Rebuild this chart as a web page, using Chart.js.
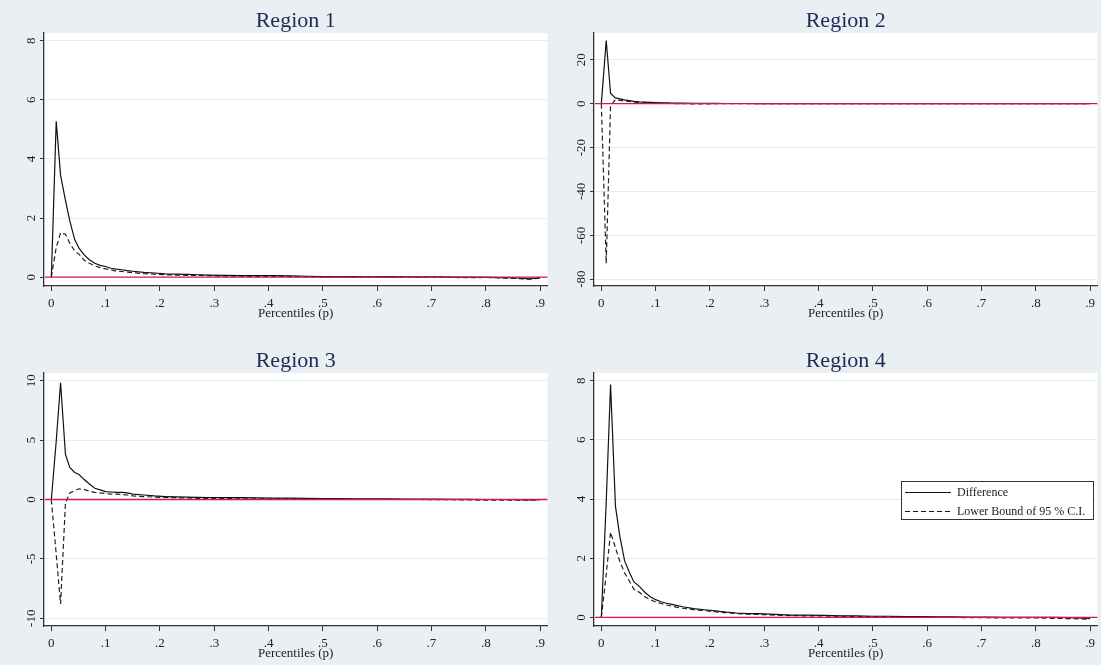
<!DOCTYPE html>
<html>
<head>
<meta charset="utf-8">
<script src="https://cdn.jsdelivr.net/npm/chart.js@4.4.0/dist/chart.umd.min.js"></script>
<style>
  body { margin: 0; background: #e9eff2; width: 1101px; height: 665px; position: relative; overflow: hidden; }
  .panel { position: absolute; width: 550px; height: 325px; }
</style>
</head>
<body>
<div class="panel" style="left:0;top:0"><canvas id="g1"></canvas></div>
<div class="panel" style="left:550px;top:0"><canvas id="g2"></canvas></div>
<div class="panel" style="left:0;top:340px"><canvas id="g3"></canvas></div>
<div class="panel" style="left:550px;top:340px"><canvas id="g4"></canvas></div>
<script>
// percentiles p where the difference was estimated
const pct = [0, .009, .017, .026, .034, .043, .051, .06, .07, .08, .09, .1, .11, .12, .13, .14, .15, .17, .19, .21, .23, .25, .27, .29, .32, .35, .38, .41, .44, .47, .5, .53, .56, .59, .62, .65, .68, .71, .74, .77, .8, .83, .86, .88, .9];

const xTicks = [0, .1, .2, .3, .4, .5, .6, .7, .8, .9];
const xTickLabels = ['0', '.1', '.2', '.3', '.4', '.5', '.6', '.7', '.8', '.9'];

const regionNames = ['Region 1', 'Region 2', 'Region 3', 'Region 4'];
const seriesNames = ['Difference', 'Lower Bound of 95 % C.I.'];

const diff1 = [0, 5.27, 3.45, 2.6, 1.9, 1.27, 0.98, 0.76, 0.59, 0.47, 0.4, 0.36, 0.3, 0.27, 0.25, 0.22, 0.2, 0.16, 0.14, 0.11, 0.1, 0.09, 0.08, 0.07, 0.06, 0.05, 0.05, 0.05, 0.04, 0.03, 0.02, 0.02, 0.02, 0.01, 0.02, 0.01, 0.01, 0.01, 0, 0, -0.01, -0.02, -0.03, -0.06, -0.02];
const lower1 = [0, 1.0, 1.5, 1.45, 1.15, 0.88, 0.78, 0.58, 0.47, 0.38, 0.32, 0.28, 0.25, 0.2, 0.19, 0.17, 0.15, 0.12, 0.1, 0.08, 0.07, 0.06, 0.06, 0.05, 0.03, 0.03, 0.02, 0.03, 0.02, 0.01, 0, 0.01, 0, 0.01, 0, 0, -0.01, 0, -0.01, -0.02, -0.01, -0.03, -0.05, -0.07, -0.03];

const diff2 = [0, 28.8, 4.6, 2.6, 2.2, 1.7, 1.4, 1.0, 0.8, 0.7, 0.6, 0.5, 0.4, 0.35, 0.3, 0.25, 0.2, 0.15, 0.12, 0.1, 0.08, 0.07, 0.06, 0.05, 0.04, 0.03, 0.03, 0.02, 0.02, 0.02, 0.01, 0.01, 0.01, 0, 0, 0, 0, 0, 0, 0, 0, 0, 0, 0, 0];
const lower2 = [0, -72.8, -0.9, 1.8, 1.5, 1.2, 1.0, 0.7, 0.5, 0.4, 0.3, 0.25, 0.2, 0.15, 0.1, 0.05, 0, -0.1, -0.1, -0.05, -0.05, 0, -0.05, -0.05, -0.05, -0.05, -0.05, -0.05, -0.05, -0.05, -0.05, -0.05, -0.05, -0.05, -0.05, -0.05, -0.05, -0.05, -0.05, -0.05, -0.05, -0.05, -0.05, -0.05, -0.05];

const diff3 = [0, 4.9, 9.83, 3.8, 2.7, 2.27, 2.1, 1.7, 1.3, 0.95, 0.81, 0.67, 0.63, 0.6, 0.6, 0.55, 0.45, 0.38, 0.3, 0.25, 0.22, 0.2, 0.18, 0.17, 0.16, 0.15, 0.14, 0.12, 0.11, 0.1, 0.08, 0.07, 0.06, 0.06, 0.05, 0.04, 0.04, 0.03, 0.02, 0.01, 0, 0, -0.02, -0.03, -0.02];
const lower3 = [0, -4.6, -8.8, -0.3, 0.55, 0.75, 0.9, 0.85, 0.7, 0.6, 0.55, 0.5, 0.45, 0.45, 0.42, 0.38, 0.3, 0.25, 0.2, 0.17, 0.15, 0.13, 0.1, 0.08, 0.07, 0.06, 0.06, 0.05, 0.05, 0.04, 0.03, 0.02, 0.02, 0.01, 0.01, 0, 0, -0.01, -0.02, -0.04, -0.06, -0.05, -0.06, -0.05, -0.04];

const diff4 = [0, 3.9, 7.87, 3.76, 2.75, 1.9, 1.55, 1.2, 1.05, 0.85, 0.7, 0.6, 0.53, 0.48, 0.44, 0.4, 0.36, 0.3, 0.26, 0.22, 0.18, 0.15, 0.13, 0.13, 0.1, 0.08, 0.08, 0.07, 0.05, 0.05, 0.04, 0.04, 0.03, 0.03, 0.02, 0.02, 0.01, 0.01, 0, 0, 0, 0, -0.01, -0.02, -0.03];
const lower4 = [0, 1.45, 2.88, 2.35, 1.9, 1.5, 1.25, 0.95, 0.85, 0.7, 0.6, 0.52, 0.47, 0.42, 0.38, 0.34, 0.31, 0.26, 0.23, 0.19, 0.16, 0.13, 0.11, 0.1, 0.08, 0.06, 0.05, 0.05, 0.04, 0.03, 0.02, 0.02, 0.01, 0.01, 0, 0, -0.01, -0.01, -0.02, -0.02, -0.02, -0.03, -0.04, -0.05, -0.06];

const yTicks1 = [0, 2, 4, 6, 8];
const yTicks2 = [-80, -60, -40, -20, 0, 20];
const yTicks3 = [-10, -5, 0, 5, 10];
const yTicks4 = [0, 2, 4, 6, 8];

const serif = "'Liberation Serif', 'DejaVu Serif', serif";

// white plot region, title over it, rotated y labels, red zero line, legend
const stataBits = {
    id: 'stataBits',
    beforeDraw(chart) {
        const { ctx, chartArea } = chart;
        ctx.save();
        ctx.fillStyle = '#fff';
        ctx.fillRect(chartArea.left, chartArea.top, chartArea.right - chartArea.left, chartArea.bottom - chartArea.top);
        ctx.restore();
    },
    afterDatasetsDraw(chart) {
        const { ctx, chartArea } = chart;
        const y0 = chart.scales.y.getPixelForValue(0);
        ctx.save();
        ctx.setLineDash([]);
        ctx.strokeStyle = '#d41a45';
        ctx.lineWidth = 1.4;
        ctx.beginPath();
        ctx.moveTo(chartArea.left + 1, y0);
        ctx.lineTo(chartArea.right, y0);
        ctx.stroke();
        ctx.restore();
    },
    afterDraw(chart, args, opts) {
        const { ctx, chartArea } = chart;
        ctx.save();
        ctx.fillStyle = '#1c2b55';
        ctx.font = '22px ' + serif;
        ctx.textAlign = 'center';
        ctx.textBaseline = 'alphabetic';
        ctx.fillText(opts.title, (chartArea.left + chartArea.right) / 2, 27);

        ctx.fillStyle = '#222';
        ctx.font = '13px ' + serif;
        opts.yTicks.forEach(v => {
            const y = chart.scales.y.getPixelForValue(v);
            ctx.save();
            ctx.translate(35, y);
            ctx.rotate(-Math.PI / 2);
            ctx.fillText(String(v), 0, 0);
            ctx.restore();
        });

        if (opts.legend) {
            const L = 351, T = 141, R = 543, B = 179;
            ctx.fillStyle = '#fff';
            ctx.fillRect(L, T, R - L, B - T);
            ctx.strokeStyle = '#333';
            ctx.lineWidth = 1;
            ctx.strokeRect(L + 0.5, T + 0.5, R - L, B - T);
            const rows = [152.5, 171.5];
            chart.data.datasets.forEach((ds, i) => {
                ctx.strokeStyle = '#111';
                ctx.setLineDash(ds.borderDash || []);
                ctx.beginPath();
                ctx.moveTo(355, rows[i]);
                ctx.lineTo(401, rows[i]);
                ctx.stroke();
                ctx.setLineDash([]);
                ctx.fillStyle = '#222';
                ctx.font = '12px ' + serif;
                ctx.textAlign = 'left';
                ctx.textBaseline = 'middle';
                ctx.fillText(ds.label, 407, rows[i]);
            });
        }
        ctx.restore();
    }
};

function makeChart(id, title, diff, lower, yTicks, yMin, yMax, legend) {
    const ctx = document.getElementById(id).getContext('2d');
    return new Chart(ctx, {
        type: 'line',
        data: {
            datasets: [{
                label: seriesNames[0],
                data: pct.map((p, i) => ({ x: p, y: diff[i] })),
                borderColor: '#111',
                borderWidth: 1.2,
                pointRadius: 0,
                tension: 0
            }, {
                label: seriesNames[1],
                data: pct.map((p, i) => ({ x: p, y: lower[i] })),
                borderColor: '#222',
                borderWidth: 1.2,
                borderDash: [5, 3],
                pointRadius: 0,
                tension: 0
            }]
        },
        options: {
            responsive: true,
            maintainAspectRatio: false,
            animation: false,
            layout: { padding: { top: 33, right: 2, left: 0, bottom: 0 } },
            scales: {
                x: {
                    type: 'linear',
                    min: -0.0135,
                    max: 0.9135,
                    afterBuildTicks: scale => { scale.ticks = xTicks.map(v => ({ value: v })); },
                    afterFit: scale => { scale.height = 39; },
                    ticks: {
                        autoSkip: false,
                        maxRotation: 0,
                        padding: 5,
                        color: '#222',
                        font: { family: serif, size: 13 },
                        callback: (v, i) => xTickLabels[i]
                    },
                    grid: { drawOnChartArea: false, tickLength: 5, tickColor: '#333' },
                    border: { color: '#333', width: 1.3 },
                    title: {
                        display: true,
                        text: 'Percentiles (p)',
                        color: '#222',
                        font: { family: serif, size: 13, lineHeight: 1.2 },
                        padding: { top: 0, bottom: 3.8 }
                    }
                },
                y: {
                    type: 'linear',
                    min: yMin,
                    max: yMax,
                    afterBuildTicks: scale => { scale.ticks = yTicks.map(v => ({ value: v })); },
                    afterFit: scale => { scale.width = 44; },
                    ticks: { display: false },
                    grid: { color: '#e6edf1', tickColor: '#333', tickLength: 4 },
                    border: { color: '#333', width: 1.3 }
                }
            },
            plugins: {
                legend: { display: false },
                tooltip: { enabled: false },
                stataBits: { title, yTicks, legend }
            }
        },
        plugins: [stataBits]
    });
}

makeChart('g1', regionNames[0], diff1, lower1, yTicks1, -0.3, 8.26, false);
makeChart('g2', regionNames[1], diff2, lower2, yTicks2, -83.1, 32.2, false);
makeChart('g3', regionNames[2], diff3, lower3, yTicks3, -10.65, 10.65, false);
makeChart('g4', regionNames[3], diff4, lower4, yTicks4, -0.29, 8.26, true);
</script>
</body>
</html>
